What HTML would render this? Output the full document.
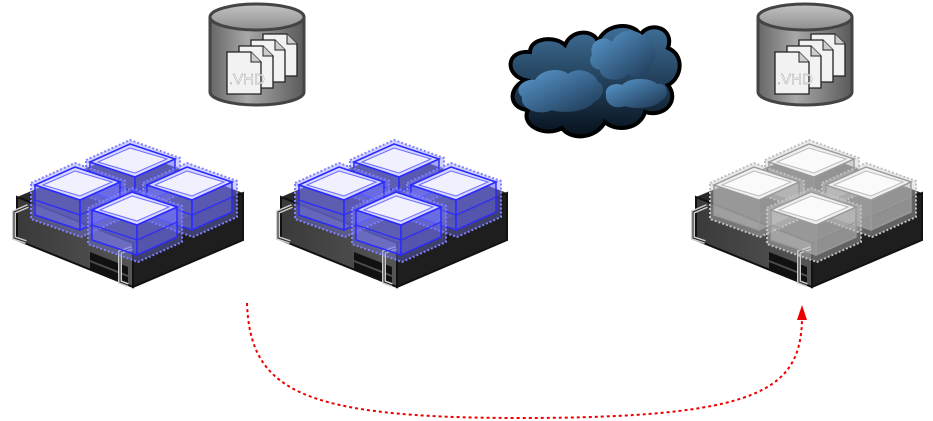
<!DOCTYPE html>
<html><head><meta charset="utf-8"><style>
html,body{margin:0;padding:0;background:#fff;}
svg{display:block}
</style></head><body>
<svg width="933" height="421" viewBox="0 0 933 421" xmlns="http://www.w3.org/2000/svg">
<defs>
  <linearGradient id="cyl" x1="0" x2="1" y1="0" y2="0">
    <stop offset="0" stop-color="#666"/><stop offset="0.4" stop-color="#a8a8a8"/><stop offset="1" stop-color="#5a5a5a"/>
  </linearGradient>
  <linearGradient id="cylTop" x1="0" x2="0" y1="0" y2="1">
    <stop offset="0" stop-color="#c4c4c4"/><stop offset="1" stop-color="#8e8e8e"/>
  </linearGradient>
  <linearGradient id="cloudG" x1="0" x2="0" y1="0" y2="1">
    <stop offset="0" stop-color="#3f6f98"/><stop offset="1" stop-color="#07111c"/>
  </linearGradient>
  <linearGradient id="cloudL" x1="0" x2="1" y1="0" y2="1">
    <stop offset="0" stop-color="#5a9ad0"/><stop offset="1" stop-color="#1c3550"/>
  </linearGradient>
  <linearGradient id="front" x1="0" x2="1" y1="0" y2="0">
    <stop offset="0" stop-color="#3a3a3a"/><stop offset="1" stop-color="#555"/>
  </linearGradient>
  <g id="doc">
    <path d="M0 0 H24 L34 10 V42 H0 Z" fill="#f2f2f2" stroke="#222" stroke-width="1.3"/>
    <path d="M24 0 V10 H34" fill="#ccc" stroke="#222" stroke-width="1"/>
  </g>
  <g id="db">
    <path d="M-47 0 V75 A47 13 0 0 0 47 75 V0" fill="url(#cyl)" stroke="#444" stroke-width="3"/>
    <ellipse cx="0" cy="0" rx="47" ry="13" fill="url(#cylTop)" stroke="#444" stroke-width="3"/>
    <use href="#doc" x="6" y="17"/>
    <use href="#doc" x="-6" y="23"/>
    <use href="#doc" x="-18" y="29"/>
    <use href="#doc" x="-30" y="35"/>
    <text x="-28" y="67" font-family="Liberation Sans, sans-serif" font-size="15" fill="#fff" stroke="#999" stroke-width="0.4">.VHD</text>
  </g>
  <g id="chassis">
    <polygon points="17,197 133,243 243,193 130,150" fill="#2a2a2a"/>
    <polygon points="17,197 133,243 133,287 17,240" fill="url(#front)" stroke="#111" stroke-width="2"/>
    <polygon points="133,243 243,193 243,240 133,287" fill="#1e1e1e" stroke="#111" stroke-width="2"/>
    <polygon points="90,252 128,267 128,275 90,260" fill="#111"/>
    <polygon points="90,262 128,277 128,284 90,269" fill="#111"/>
    <path d="M28 206 L14 212 V238 L26 242" fill="none" stroke="#ccc" stroke-width="4"/>
    <path d="M28 206 L14 212 V238 L26 242" fill="none" stroke="#222" stroke-width="1"/>
    <path d="M132 248 L120 252 V282 L128 285" fill="none" stroke="#ccc" stroke-width="4"/>
    <path d="M132 248 L120 252 V282 L128 285" fill="none" stroke="#222" stroke-width="1"/>
  </g>
  <g id="bladeB">
    <polygon points="-4,-2 40,-22 90,-4 90,32 46,52 -4,34" fill="rgba(130,130,255,0.35)" stroke="#8080ff" stroke-dasharray="2 2" stroke-width="2"/>
    <polygon points="0,30 45,45 45,15 0,0" fill="rgba(120,120,255,0.45)" stroke="#2a2aff" stroke-width="1.5"/>
    <polygon points="45,15 85,-3 85,27 45,45" fill="rgba(110,110,255,0.45)" stroke="#2a2aff" stroke-width="1.5"/>
    <polygon points="0,0 40,-18 85,-3 45,15" fill="#d8d8ff" stroke="#2a2aff" stroke-width="1.6"/>
    <polygon points="8,0 40,-14 77,-3 45,11" fill="#f0f0ff" stroke="#6a6aff" stroke-width="1"/>
    <line x1="0" y1="15" x2="45" y2="30" stroke="#2a2aff" stroke-width="1.2"/>
    <line x1="45" y1="30" x2="85" y2="12" stroke="#2a2aff" stroke-width="1.2"/>
  </g>
  <g id="bladeG">
    <polygon points="-4,-2 40,-22 90,-4 90,32 46,52 -4,34" fill="rgba(200,200,200,0.4)" stroke="#c0c0c0" stroke-dasharray="2 2" stroke-width="2"/>
    <polygon points="0,30 45,45 45,15 0,0" fill="rgba(200,200,200,0.5)" stroke="#999" stroke-width="1.4"/>
    <polygon points="45,15 85,-3 85,27 45,45" fill="rgba(190,190,190,0.5)" stroke="#999" stroke-width="1.4"/>
    <polygon points="0,0 40,-18 85,-3 45,15" fill="#f0f0f0" stroke="#999" stroke-width="1.4"/>
    <polygon points="8,0 40,-14 77,-3 45,11" fill="#fafafa" stroke="#bbb" stroke-width="1"/>
    <line x1="0" y1="15" x2="45" y2="30" stroke="#999" stroke-width="1.2"/>
    <line x1="45" y1="30" x2="85" y2="12" stroke="#999" stroke-width="1.2"/>
  </g>
</defs>

<use href="#db" x="257" y="17"/>
<use href="#db" x="805" y="17"/>

<g>
  <path d="M525 80 C505 75 505 50 530 52 C530 38 555 35 565 45 C572 28 595 30 598 42 C605 22 635 22 640 35 C650 20 675 28 668 48 C685 55 682 78 668 85 C680 100 665 118 645 112 C640 130 615 132 605 122 C595 140 570 140 562 128 C545 138 520 125 528 110 C508 108 508 88 525 80 Z" fill="url(#cloudG)" stroke="#000" stroke-width="4"/>
  <path d="M522 97 C512 88 525 78 535 80 C542 68 562 68 568 74 C578 66 595 72 598 82 C606 84 604 98 594 102 C588 112 562 114 552 110 C540 116 520 110 522 97 Z" fill="url(#cloudL)"/>
  <path d="M592 55 C588 40 605 34 612 42 C620 26 642 28 648 42 C658 46 658 60 650 66 C650 78 636 80 628 74 C620 84 600 80 600 70 C590 68 588 60 592 55 Z" fill="url(#cloudL)"/>
  <path d="M606 95 C604 86 615 82 622 85 C630 76 652 78 657 84 C668 82 670 96 662 100 C656 108 635 110 625 106 C615 110 605 104 606 95 Z" fill="url(#cloudL)"/>
</g>

<g id="srvBlue">
  <use href="#chassis"/>
  <use href="#bladeB" x="90" y="162"/>
  <use href="#bladeB" x="35" y="185"/>
  <use href="#bladeB" x="147" y="185"/>
  <use href="#bladeB" x="92" y="210"/>
</g>
<use href="#srvBlue" x="264" y="0"/>
<g transform="translate(679,0)">
  <use href="#chassis"/>
  <use href="#bladeG" x="90" y="162"/>
  <use href="#bladeG" x="35" y="185"/>
  <use href="#bladeG" x="147" y="185"/>
  <use href="#bladeG" x="92" y="210"/>
</g>

<path d="M247 303 C250 390 300 418 520 418 C760 418 800 390 802 320" fill="none" stroke="#ee0000" stroke-width="2" stroke-dasharray="3 3"/>
<polygon points="802,305 797,320 807,320" fill="#ee0000"/>
</svg>
</body></html>
